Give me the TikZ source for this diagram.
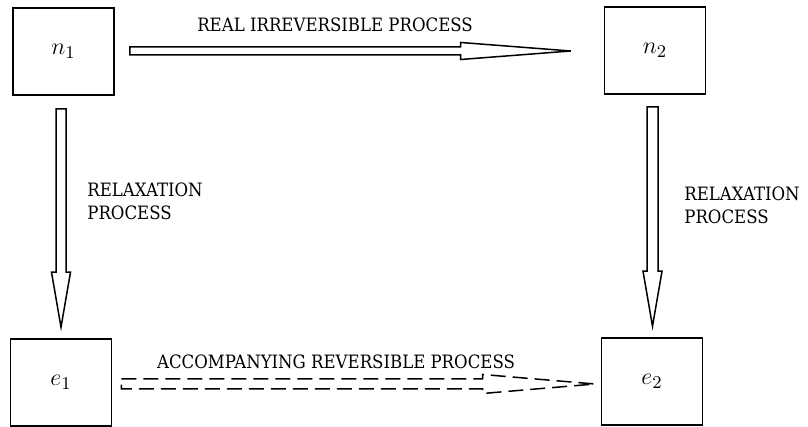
\documentclass[tikz,border=0pt]{standalone}
\usepackage{fontspec}
\setmainfont{Liberation Serif}
\newfontfamily\labelfont{DejaVu Serif Condensed}
\usepackage{tikz}
\usetikzlibrary{positioning,calc}
% hollow arrow to the right: start, tip, shaft half width, head half width, head length
\newcommand{\harrow}[6][]{%
  \draw[hollow,#1] ($(#2)+(0,#4)$) -- ($(#3)+(-#6,#4)$) -- ($(#3)+(-#6,#5)$) -- (#3)
    -- ($(#3)+(-#6,-#5)$) -- ($(#3)+(-#6,-#4)$) -- ($(#2)+(0,-#4)$) -- cycle;}
% hollow arrow downwards: start, tip, shaft half width, head half width, head length
\newcommand{\varrow}[5]{%
  \draw[hollow] ($(#1)+(-#3,0)$) -- ($(#2)+(-#3,#5)$) -- ($(#2)+(-#4,#5)$) -- (#2)
    -- ($(#2)+(#4,#5)$) -- ($(#2)+(#3,#5)$) -- ($(#1)+(#3,0)$) -- cycle;}

\begin{document}
\begin{tikzpicture}[x=0.5pt,y=0.5pt,
  state/.style={draw,line width=0.8pt,minimum width=50.5pt,minimum height=43.5pt,
                inner sep=0pt,font=\fontsize{13}{15}\selectfont},
  hollow/.style={draw,line width=0.75pt,line join=miter},
  lbl/.style={font=\labelfont\fontsize{9.2}{11.5}\selectfont,inner sep=0pt,align=left}]
  \useasboundingbox (0,0) rectangle (808,427);
  \node[state] (n1) at (63.5,375.5) {$n_1$};
  \node[state] (n2) at (655,376.5)  {$n_2$};
  \node[state] (e1) at (61,44.5)    {$e_1$};
  \node[state] (e2) at (652,45.5)   {$e_2$};
  % top: real process
  \coordinate (t1) at ($(n1.east)+(15,0.5)$);
  \coordinate (t2) at ($(t1 -| n2.west)+(-33,0)$);
  \harrow{t1}{t2}{4}{8.5}{110}
  \node[lbl] (ltop) at (335,402) {REAL IRREVERSIBLE PROCESS};
  % relaxation
  \coordinate (l1) at ($(n1.south)+(-2.5,-13)$);
  \coordinate (l2) at ($(l1 |- e1.north)+(0,11)$);
  \varrow{l1}{l2}{5}{9.5}{55}
  \node[lbl,anchor=west] (lleft) at (87,226) {RELAXATION\\PROCESS};
  \coordinate (r1) at ($(n2.south)+(-2.5,-12)$);
  \coordinate (r2) at ($(r1 |- e2.north)+(0,11)$);
  \varrow{r1}{r2}{5.5}{9.5}{55}
  \node[lbl,anchor=west] (lright) at (684,222) {RELAXATION\\PROCESS};
  % bottom: reversible process
  \coordinate (b1) at ($(e1.east)+(9,-1.5)$);
  \coordinate (b2) at ($(b1 -| e2.west)+(-6,0)$);
  \harrow[dash pattern=on 7.5pt off 3.5pt]{b1}{b2}{5}{9.5}{112}
  \node[lbl] (lbot) at (336,65) {ACCOMPANYING REVERSIBLE PROCESS};
\end{tikzpicture}
\end{document}
